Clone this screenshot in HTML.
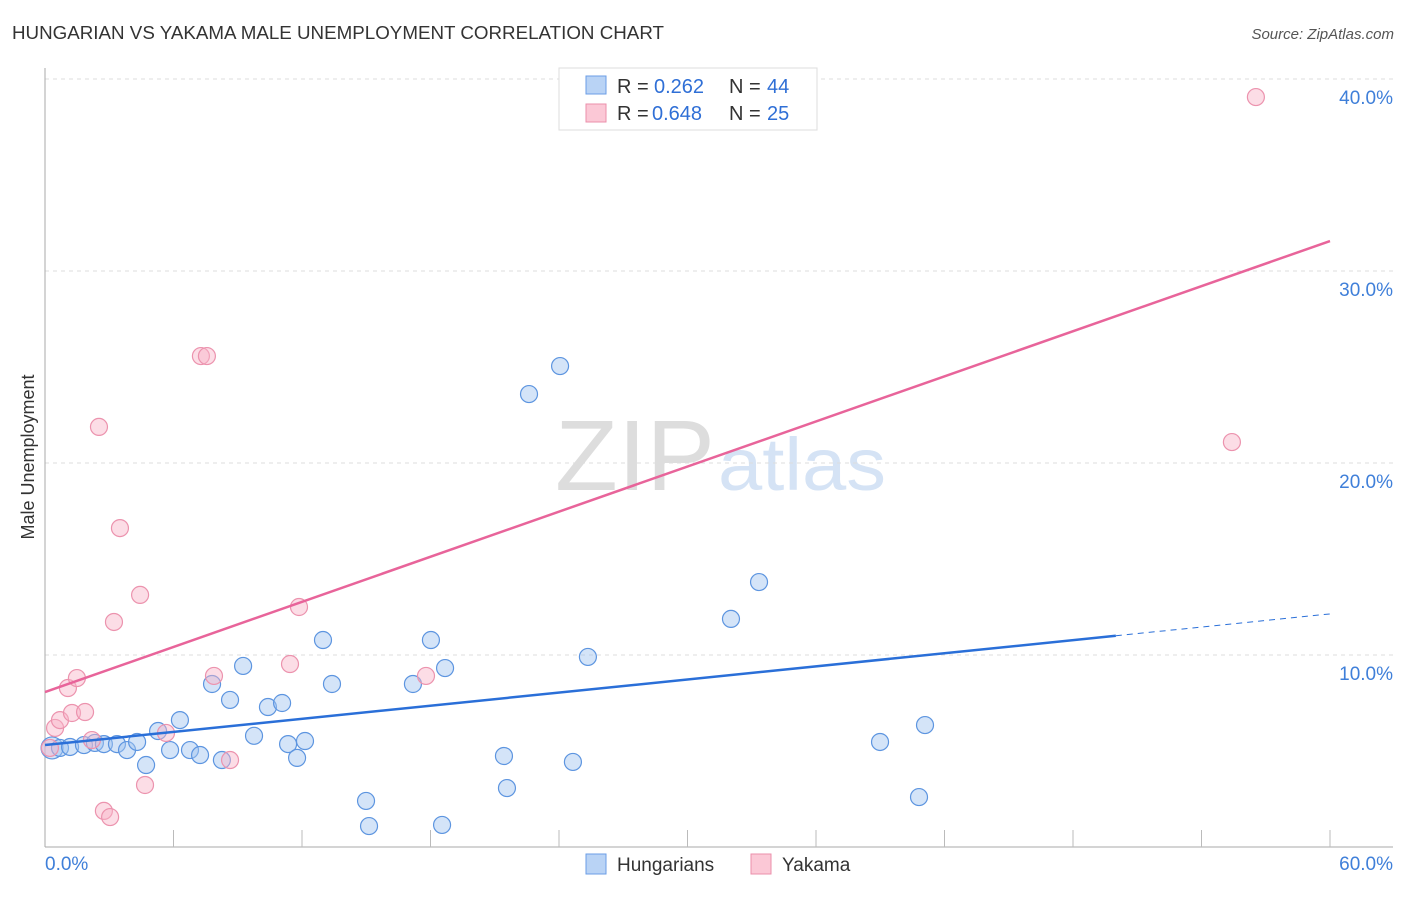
<!DOCTYPE html>
<html><head><meta charset="utf-8"><style>
body{margin:0;background:#fff;font-family:"Liberation Sans",sans-serif;}
svg text{font-family:"Liberation Sans",sans-serif;}
</style></head><body>
<svg id="c" width="1406" height="892">
<text x="12" y="39" font-size="18" fill="#333" textLength="652" lengthAdjust="spacingAndGlyphs">HUNGARIAN VS YAKAMA MALE UNEMPLOYMENT CORRELATION CHART</text>
<text x="1394" y="39" font-size="15" fill="#555" font-style="italic" text-anchor="end">Source: ZipAtlas.com</text>
<text x="34" y="457" font-size="18" fill="#333" text-anchor="middle" transform="rotate(-90 34 457)">Male Unemployment</text>
<g>
<text x="555" y="490" font-size="100" fill="#ddd" font-family="Liberation Serif" textLength="160" lengthAdjust="spacingAndGlyphs">ZIP</text>
<text x="718" y="490" font-size="74" fill="#d5e3f5" textLength="168" lengthAdjust="spacingAndGlyphs">atlas</text>
</g>
<g id="grid"></g><g id="marks"></g>
<g>
<rect x="559" y="68" width="258" height="62" fill="#fff" stroke="#ddd"/>
<rect x="586" y="76" width="20" height="18" fill="#b9d3f5" stroke="#6b9ee6"/>
<text x="617" y="93" font-size="20" fill="#333">R =</text>
<text x="654" y="93" font-size="20" fill="#2f6fd6">0.262</text>
<text x="729" y="93" font-size="20" fill="#333">N =</text>
<text x="767" y="93" font-size="20" fill="#2f6fd6">44</text>
<rect x="586" y="104" width="20" height="18" fill="#fbc8d6" stroke="#eb8fab"/>
<text x="617" y="120" font-size="20" fill="#333">R =</text>
<text x="652" y="120" font-size="20" fill="#2f6fd6">0.648</text>
<text x="729" y="120" font-size="20" fill="#333">N =</text>
<text x="767" y="120" font-size="20" fill="#2f6fd6">25</text>
</g>
<g>
<rect x="586" y="854" width="20" height="20" fill="#b9d3f5" stroke="#6b9ee6"/>
<text x="617" y="871" font-size="19" fill="#333">Hungarians</text>
<rect x="751" y="854" width="20" height="20" fill="#fbc8d6" stroke="#eb8fab"/>
<text x="782" y="871" font-size="19" fill="#333">Yakama</text>
</g>
</svg>
<script>
const blueX=[0.33,0.70,1.17,1.82,2.33,2.75,3.36,3.83,4.30,4.72,5.28,5.84,6.30,6.77,7.24,7.80,8.26,8.64,9.25,9.76,10.41,11.07,11.35,11.77,12.14,12.98,13.40,14.99,15.13,17.18,18.02,18.54,18.68,21.43,21.57,22.60,24.05,24.65,25.35,32.03,33.34,38.99,40.81,41.09];
const blueY=[5.16,5.16,5.21,5.31,5.42,5.36,5.36,5.05,5.47,4.27,6.04,5.05,6.61,5.05,4.79,8.49,4.53,7.66,9.43,5.79,7.29,7.50,5.36,4.64,5.52,10.78,8.49,2.40,1.09,8.49,10.78,1.15,9.32,4.74,3.07,23.59,25.05,4.43,9.90,11.88,13.80,5.47,2.60,6.35];
const pinkX=[0.23,0.47,0.70,1.07,1.26,1.49,1.87,2.19,2.52,2.75,3.04,3.22,4.44,4.67,3.50,5.65,7.28,7.56,7.89,8.64,11.44,11.86,17.79,55.42,56.54];
const pinkY=[5.16,6.20,6.61,8.28,6.98,8.80,7.03,5.57,21.88,1.88,1.56,11.72,13.13,3.23,16.61,5.94,25.57,25.57,8.91,4.53,9.53,12.50,8.91,21.09,39.06];
const blueFit=[5.31,12.14];
const pinkFit=[8.07,31.56];
const yTicks=[10,20,30,40];
const xTickLabels=["0.0%","60.0%"];
const NS='http://www.w3.org/2000/svg';
const sx=v=>45+v/60*1285, sy=v=>847-v*19.2;
function mk(p,t,a){const e=document.createElementNS(NS,t);for(const k in a)e.setAttribute(k,a[k]);p.appendChild(e);return e;}
const g=document.getElementById('grid'),m=document.getElementById('marks');
yTicks.forEach(t=>{
 const l=mk(g,'line',{x1:45,x2:1393,y1:sy(t),y2:sy(t),stroke:'#ddd','stroke-dasharray':'4,4'});
 
 
 const tx=mk(g,'text',{x:1393,y:sy(t)+25,'font-size':19,fill:'#3f7fd9','text-anchor':'end'});tx.textContent=t.toFixed(1)+'%';
 
 
});
mk(g,'line',{x1:45,x2:45,y1:68,y2:847,stroke:'#aaa'});
mk(g,'line',{x1:45,x2:1393,y1:847,y2:847,stroke:'#aaa'});
for(let i=1;i<=10;i++){const x=sx(i*6);mk(g,'line',{x1:x,x2:x,y1:830,y2:847,stroke:'#bbb'});}
const x0=mk(g,'text',{x:45,y:870,'font-size':19,fill:'#3f7fd9'});x0.textContent=xTickLabels[0];


const x1=mk(g,'text',{x:1393,y:870,'font-size':19,fill:'#3f7fd9','text-anchor':'end'});x1.textContent=xTickLabels[1];


blueX.forEach((x,i)=>{const c=mk(m,'circle',{cx:sx(x),cy:sy(blueY[i]),r:i==0?11:8.5,fill:'rgba(160,196,240,0.45)',stroke:'#5d95e0','stroke-width':1.2});
 
 });
pinkX.forEach((x,i)=>{const c=mk(m,'circle',{cx:sx(x),cy:sy(pinkY[i]),r:8.5,fill:'rgba(248,180,200,0.45)',stroke:'#ec93ae','stroke-width':1.2});
 
 });
const bAt=x=>blueFit[0]+(blueFit[1]-blueFit[0])*x/60;
const bl=mk(m,'line',{x1:sx(0),y1:sy(bAt(0)),x2:sx(50),y2:sy(bAt(50)),stroke:'#2a6fd8','stroke-width':2.5});


const bd=mk(m,'line',{x1:sx(50),y1:sy(bAt(50)),x2:sx(60),y2:sy(bAt(60)),stroke:'#2a6fd8','stroke-width':1,'stroke-dasharray':'6,5'});


const pl=mk(m,'line',{x1:sx(0),y1:sy(pinkFit[0]),x2:sx(60),y2:sy(pinkFit[1]),stroke:'#e8649a','stroke-width':2.5});


</script>
</body></html>
